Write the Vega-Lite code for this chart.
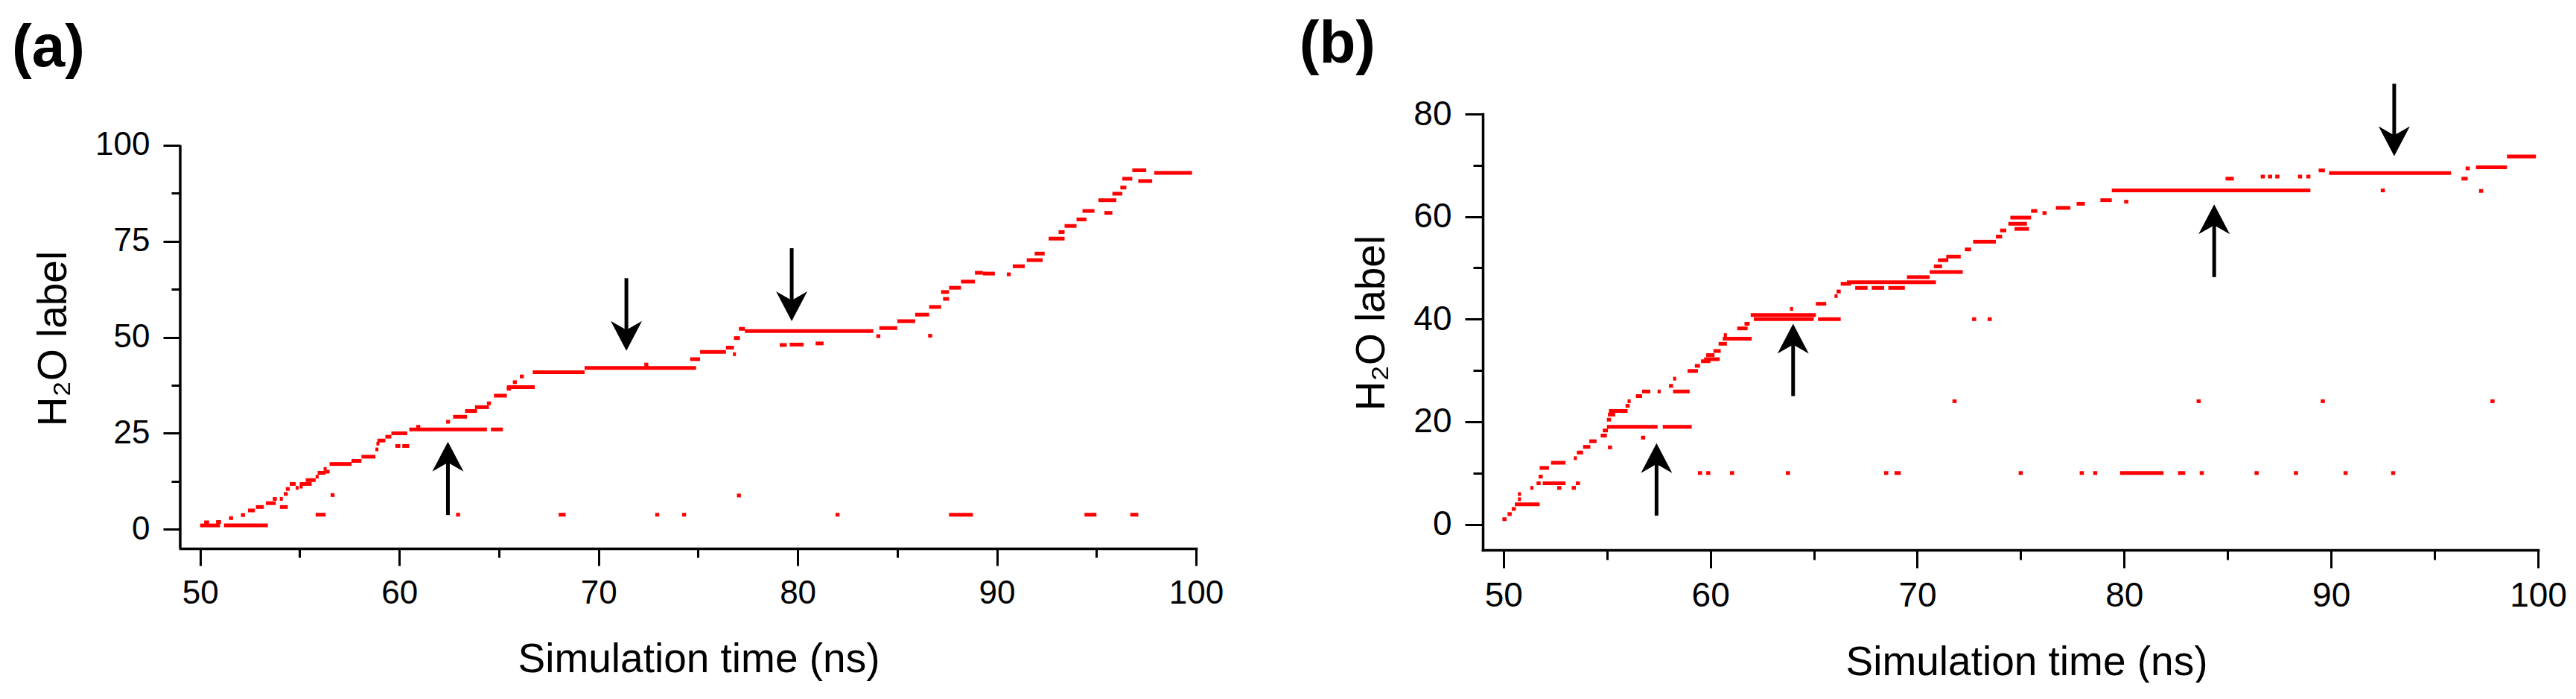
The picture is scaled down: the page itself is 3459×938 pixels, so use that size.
{
  "$schema": "https://vega.github.io/schema/vega-lite/v6.json",
  "background": "white",
  "padding": {"left": 16, "top": 19, "right": 0, "bottom": 0},
  "spacing": 101,
  "config": {
    "font": "Liberation Sans",
    "view": {"stroke": null},
    "axis": {
      "grid": false,
      "domainColor": "black",
      "domainWidth": 3.5,
      "domainCap": "square",
      "tickColor": "black",
      "tickWidth": 3,
      "tickSize": 23,
      "labelFont": "Liberation Sans",
      "labelFontSize": 44,
      "labelColor": "black",
      "labelFlush": false,
      "labelOverlap": false,
      "titleFont": "Liberation Sans",
      "titleFontSize": 55,
      "titleFontWeight": "normal",
      "titleColor": "black"
    },
    "axisX": {"labelPadding": 15, "titlePadding": 40},
    "axisY": {"labelPadding": 18, "titlePadding": 27}
  },
  "datasets": {
    "a_seg": [
      {"x": 50.0, "x2": 51.0, "y": 1}, {"x": 51.2, "x2": 53.4, "y": 1},
      {"x": 50.2, "x2": 50.45, "y": 1.8}, {"x": 50.8, "x2": 51.05, "y": 1.9},
      {"x": 51.45, "x2": 51.65, "y": 2.9}, {"x": 52.05, "x2": 52.25, "y": 3.7},
      {"x": 52.4, "x2": 52.75, "y": 4.9}, {"x": 52.8, "x2": 53.2, "y": 5.8},
      {"x": 53.3, "x2": 53.8, "y": 6.8}, {"x": 53.65, "x2": 53.85, "y": 7.9},
      {"x": 54.0, "x2": 54.15, "y": 7.9}, {"x": 54.0, "x2": 54.4, "y": 5.8},
      {"x": 54.2, "x2": 54.4, "y": 9.2}, {"x": 54.3, "x2": 54.5, "y": 10.5},
      {"x": 54.5, "x2": 54.8, "y": 11.8}, {"x": 54.8, "x2": 54.95, "y": 10.8},
      {"x": 55.0, "x2": 55.6, "y": 11.8}, {"x": 55.0, "x2": 55.15, "y": 11.1},
      {"x": 55.3, "x2": 55.8, "y": 12.8}, {"x": 55.8, "x2": 55.95, "y": 13.7},
      {"x": 55.9, "x2": 56.3, "y": 14.7}, {"x": 56.2, "x2": 56.35, "y": 15.7},
      {"x": 56.3, "x2": 56.5, "y": 15.0}, {"x": 55.8, "x2": 56.3, "y": 3.8},
      {"x": 56.55, "x2": 56.75, "y": 8.9}, {"x": 56.5, "x2": 57.6, "y": 17.0},
      {"x": 57.6, "x2": 58.1, "y": 17.8}, {"x": 58.1, "x2": 58.8, "y": 18.9},
      {"x": 58.8, "x2": 58.95, "y": 20.8}, {"x": 58.85, "x2": 59.0, "y": 22.3},
      {"x": 58.9, "x2": 59.3, "y": 23.1}, {"x": 59.3, "x2": 59.6, "y": 24.1},
      {"x": 59.6, "x2": 60.4, "y": 25.0}, {"x": 59.8, "x2": 60.05, "y": 21.7},
      {"x": 60.15, "x2": 60.5, "y": 21.7}, {"x": 60.5, "x2": 64.4, "y": 26.0},
      {"x": 60.85, "x2": 61.05, "y": 26.7}, {"x": 64.6, "x2": 65.2, "y": 26.0},
      {"x": 62.35, "x2": 62.55, "y": 28.0}, {"x": 62.7, "x2": 63.4, "y": 29.3},
      {"x": 63.3, "x2": 63.9, "y": 30.8}, {"x": 63.8, "x2": 64.5, "y": 31.8},
      {"x": 64.4, "x2": 64.6, "y": 32.8}, {"x": 64.75, "x2": 65.4, "y": 34.8},
      {"x": 65.4, "x2": 65.6, "y": 36.6}, {"x": 65.4, "x2": 66.8, "y": 37.0},
      {"x": 65.7, "x2": 65.9, "y": 38.3}, {"x": 66.05, "x2": 66.25, "y": 39.8},
      {"x": 66.7, "x2": 69.3, "y": 40.9}, {"x": 62.85, "x2": 63.05, "y": 3.8},
      {"x": 69.3, "x2": 74.9, "y": 42.0}, {"x": 72.3, "x2": 72.5, "y": 42.9},
      {"x": 74.6, "x2": 75.1, "y": 44.3}, {"x": 75.1, "x2": 76.4, "y": 46.2},
      {"x": 76.4, "x2": 76.8, "y": 47.3}, {"x": 76.75, "x2": 76.9, "y": 45.6},
      {"x": 76.8, "x2": 77.1, "y": 49.8}, {"x": 77.05, "x2": 77.35, "y": 52.2},
      {"x": 77.35, "x2": 83.8, "y": 51.6}, {"x": 79.1, "x2": 79.45, "y": 48.0},
      {"x": 79.6, "x2": 80.3, "y": 48.1}, {"x": 80.9, "x2": 81.3, "y": 48.4},
      {"x": 83.95, "x2": 84.15, "y": 50.3}, {"x": 84.1, "x2": 85.0, "y": 52.4},
      {"x": 85.0, "x2": 85.9, "y": 54.2}, {"x": 85.9, "x2": 86.6, "y": 55.9},
      {"x": 86.55, "x2": 86.75, "y": 50.4}, {"x": 86.6, "x2": 87.2, "y": 57.9},
      {"x": 87.2, "x2": 87.6, "y": 61.8}, {"x": 87.3, "x2": 87.6, "y": 60.0},
      {"x": 87.6, "x2": 88.2, "y": 62.9}, {"x": 88.2, "x2": 88.9, "y": 64.5},
      {"x": 88.9, "x2": 89.3, "y": 66.8}, {"x": 89.3, "x2": 89.9, "y": 66.6},
      {"x": 90.5, "x2": 90.7, "y": 66.4}, {"x": 90.8, "x2": 91.4, "y": 68.5},
      {"x": 91.5, "x2": 92.3, "y": 70.1}, {"x": 91.9, "x2": 92.4, "y": 71.8},
      {"x": 92.6, "x2": 93.4, "y": 75.7}, {"x": 93.1, "x2": 93.4, "y": 77.4},
      {"x": 93.4, "x2": 94.0, "y": 79.0}, {"x": 94.0, "x2": 94.5, "y": 80.7},
      {"x": 94.3, "x2": 94.9, "y": 82.9}, {"x": 95.4, "x2": 95.8, "y": 82.4},
      {"x": 95.1, "x2": 96.0, "y": 85.7}, {"x": 95.8, "x2": 96.3, "y": 87.4},
      {"x": 96.2, "x2": 96.5, "y": 89.0}, {"x": 96.3, "x2": 96.8, "y": 91.3},
      {"x": 97.1, "x2": 97.8, "y": 90.7}, {"x": 96.8, "x2": 97.5, "y": 93.5},
      {"x": 97.9, "x2": 99.8, "y": 92.8},
      {"x": 68.0, "x2": 68.35, "y": 3.8}, {"x": 72.85, "x2": 73.05, "y": 3.8},
      {"x": 74.2, "x2": 74.4, "y": 3.8}, {"x": 81.9, "x2": 82.1, "y": 3.8},
      {"x": 87.6, "x2": 88.8, "y": 3.8}, {"x": 94.4, "x2": 95.0, "y": 3.8},
      {"x": 96.7, "x2": 97.1, "y": 3.8}, {"x": 76.95, "x2": 77.15, "y": 8.8}
    ],
    "a_arrow": [
      {"x": 62.44, "tail": 3.7, "neck": 18.9, "tip": 22.8, "dir": "up"},
      {"x": 71.4, "tail": 65.4, "neck": 50.4, "tip": 46.5, "dir": "down"},
      {"x": 79.7, "tail": 73.2, "neck": 58.1, "tip": 54.2, "dir": "down"}
    ],
    "b_seg": [
      {"x": 49.95, "x2": 50.15, "y": 1.0}, {"x": 50.2, "x2": 50.4, "y": 2.0},
      {"x": 50.4, "x2": 50.6, "y": 3.0}, {"x": 50.55, "x2": 51.75, "y": 3.9},
      {"x": 50.7, "x2": 50.85, "y": 5.9}, {"x": 50.7, "x2": 50.85, "y": 4.9},
      {"x": 51.3, "x2": 51.45, "y": 7.1}, {"x": 51.6, "x2": 51.8, "y": 8.0},
      {"x": 51.7, "x2": 51.9, "y": 9.3}, {"x": 51.75, "x2": 52.2, "y": 11.0},
      {"x": 52.3, "x2": 53.0, "y": 12.0}, {"x": 51.9, "x2": 53.0, "y": 8.0},
      {"x": 52.6, "x2": 52.8, "y": 7.1}, {"x": 53.3, "x2": 53.5, "y": 7.1},
      {"x": 53.5, "x2": 53.7, "y": 8.0}, {"x": 53.4, "x2": 53.55, "y": 12.9},
      {"x": 53.55, "x2": 53.85, "y": 14.0}, {"x": 53.85, "x2": 54.2, "y": 15.1},
      {"x": 54.15, "x2": 54.5, "y": 16.2}, {"x": 54.7, "x2": 55.0, "y": 17.3},
      {"x": 54.8, "x2": 55.05, "y": 18.3}, {"x": 55.0, "x2": 57.45, "y": 19.0},
      {"x": 57.7, "x2": 59.1, "y": 19.0}, {"x": 55.0, "x2": 55.2, "y": 20.4},
      {"x": 55.05, "x2": 55.4, "y": 21.4}, {"x": 55.1, "x2": 56.0, "y": 22.1},
      {"x": 55.9, "x2": 56.1, "y": 23.1}, {"x": 56.0, "x2": 56.15, "y": 24.0},
      {"x": 56.4, "x2": 56.7, "y": 25.0}, {"x": 56.7, "x2": 57.1, "y": 25.9},
      {"x": 57.45, "x2": 57.6, "y": 25.9}, {"x": 58.2, "x2": 59.0, "y": 25.9},
      {"x": 58.0, "x2": 58.2, "y": 27.0}, {"x": 58.2, "x2": 58.35, "y": 28.4},
      {"x": 56.65, "x2": 56.85, "y": 16.9}, {"x": 55.05, "x2": 55.25, "y": 15.0},
      {"x": 58.9, "x2": 59.4, "y": 29.9}, {"x": 59.25, "x2": 59.5, "y": 30.9},
      {"x": 59.55, "x2": 60.0, "y": 31.8}, {"x": 59.7, "x2": 60.45, "y": 32.2},
      {"x": 59.8, "x2": 60.2, "y": 33.0}, {"x": 60.15, "x2": 60.5, "y": 33.8},
      {"x": 60.4, "x2": 60.8, "y": 35.2}, {"x": 60.6, "x2": 62.0, "y": 36.2},
      {"x": 60.65, "x2": 60.8, "y": 36.9}, {"x": 61.3, "x2": 61.8, "y": 38.2},
      {"x": 61.65, "x2": 61.9, "y": 39.1}, {"x": 61.95, "x2": 65.1, "y": 40.8},
      {"x": 62.1, "x2": 65.0, "y": 40.0}, {"x": 65.2, "x2": 66.3, "y": 40.0},
      {"x": 63.85, "x2": 64.0, "y": 42.0}, {"x": 65.1, "x2": 65.6, "y": 43.0},
      {"x": 66.0, "x2": 66.15, "y": 44.5}, {"x": 66.1, "x2": 66.3, "y": 45.4},
      {"x": 66.3, "x2": 66.8, "y": 46.9}, {"x": 66.6, "x2": 70.9, "y": 47.2},
      {"x": 67.0, "x2": 67.6, "y": 46.1}, {"x": 67.8, "x2": 68.4, "y": 46.1},
      {"x": 68.6, "x2": 69.4, "y": 46.1},
      {"x": 69.5, "x2": 70.6, "y": 48.2}, {"x": 70.6, "x2": 72.2, "y": 49.2},
      {"x": 70.8, "x2": 71.2, "y": 50.3}, {"x": 71.0, "x2": 71.5, "y": 51.5},
      {"x": 71.4, "x2": 72.1, "y": 52.2}, {"x": 72.3, "x2": 72.6, "y": 53.6},
      {"x": 72.7, "x2": 73.8, "y": 55.1}, {"x": 73.8, "x2": 74.1, "y": 56.1},
      {"x": 74.0, "x2": 74.3, "y": 57.3}, {"x": 74.4, "x2": 75.3, "y": 58.6},
      {"x": 74.5, "x2": 75.5, "y": 59.8}, {"x": 74.7, "x2": 75.4, "y": 57.6},
      {"x": 75.5, "x2": 75.8, "y": 61.1}, {"x": 76.05, "x2": 76.25, "y": 60.7},
      {"x": 76.7, "x2": 77.4, "y": 61.7}, {"x": 77.7, "x2": 78.1, "y": 62.5},
      {"x": 78.85, "x2": 79.4, "y": 63.2}, {"x": 80.0, "x2": 80.2, "y": 62.9},
      {"x": 79.4, "x2": 89.0, "y": 65.1}, {"x": 84.9, "x2": 85.3, "y": 67.4},
      {"x": 86.6, "x2": 86.8, "y": 67.8}, {"x": 86.95, "x2": 87.15, "y": 67.8},
      {"x": 87.3, "x2": 87.5, "y": 67.8}, {"x": 88.4, "x2": 88.6, "y": 67.8},
      {"x": 88.8, "x2": 89.0, "y": 67.8}, {"x": 89.4, "x2": 89.7, "y": 69.0},
      {"x": 89.9, "x2": 95.8, "y": 68.5}, {"x": 92.4, "x2": 92.6, "y": 65.1},
      {"x": 96.3, "x2": 96.6, "y": 67.4}, {"x": 96.5, "x2": 96.7, "y": 69.4},
      {"x": 97.0, "x2": 98.5, "y": 69.6}, {"x": 97.15, "x2": 97.35, "y": 65.0},
      {"x": 98.5, "x2": 99.9, "y": 71.7},
      {"x": 71.7, "x2": 71.9, "y": 24}, {"x": 83.5, "x2": 83.7, "y": 24},
      {"x": 89.5, "x2": 89.7, "y": 24}, {"x": 97.7, "x2": 97.9, "y": 24},
      {"x": 72.65, "x2": 72.85, "y": 40}, {"x": 73.4, "x2": 73.6, "y": 40},
      {"x": 59.4, "x2": 59.6, "y": 10}, {"x": 59.8, "x2": 60.0, "y": 10},
      {"x": 60.95, "x2": 61.15, "y": 10}, {"x": 63.65, "x2": 63.85, "y": 10},
      {"x": 68.4, "x2": 68.6, "y": 10}, {"x": 68.9, "x2": 69.2, "y": 10},
      {"x": 74.9, "x2": 75.1, "y": 10}, {"x": 77.85, "x2": 78.05, "y": 10},
      {"x": 78.5, "x2": 78.7, "y": 10}, {"x": 79.8, "x2": 81.9, "y": 10},
      {"x": 82.6, "x2": 82.95, "y": 10}, {"x": 83.65, "x2": 83.85, "y": 10},
      {"x": 86.3, "x2": 86.5, "y": 10}, {"x": 88.2, "x2": 88.4, "y": 10},
      {"x": 90.6, "x2": 90.8, "y": 10}, {"x": 92.9, "x2": 93.1, "y": 10}
    ],
    "b_arrow": [
      {"x": 57.4, "tail": 1.7, "neck": 12.9, "tip": 15.8, "dir": "up"},
      {"x": 64.0, "tail": 25.0, "neck": 36.2, "tip": 39.1, "dir": "up"},
      {"x": 84.35, "tail": 48.2, "neck": 59.5, "tip": 62.4, "dir": "up"},
      {"x": 93.05, "tail": 85.9, "neck": 74.7, "tip": 71.8, "dir": "down"}
    ]
  },
  "hconcat": [
    {
      "width": 1364,
      "height": 583,
      "layer": [
        {
          "data": {"name": "a_seg"},
          "mark": {"type": "rule", "color": "#ff0000", "strokeWidth": 5, "strokeCap": "butt"},
          "encoding": {
            "x": {"field": "x", "type": "quantitative", "scale": {"domain": [49, 100], "nice": false, "zero": false},
                  "axis": {"values": [50, 60, 70, 80, 90, 100], "title": "Simulation time (ns)", "titleX": 696}},
            "x2": {"field": "x2"},
            "y": {"field": "y", "type": "quantitative", "scale": {"domain": [-5, 108.15], "nice": false, "zero": false},
                  "axis": {"values": [0, 25, 50, 75, 100], "title": "H₂O label", "titleY": 301, "domain": false}}
          }
        },
        {
          "data": {"values": [{"from": -5, "to": 100}]},
          "mark": {"type": "rule", "color": "black", "strokeWidth": 3.5},
          "encoding": {
            "x": {"datum": 49, "type": "quantitative", "axis": null},
            "y": {"field": "from", "type": "quantitative", "axis": null},
            "y2": {"field": "to"}
          }
        },
        {
          "data": {"name": "a_arrow"},
          "mark": {"type": "rule", "color": "black", "strokeWidth": 5},
          "encoding": {
            "x": {"field": "x", "type": "quantitative",
                  "axis": {"orient": "bottom", "values": [55, 65, 75, 85, 95], "labels": false, "domain": false, "tickSize": 12, "title": null}},
            "y": {"field": "tail", "type": "quantitative",
                  "axis": {"orient": "left", "values": [12.5, 37.5, 62.5, 87.5], "labels": false, "domain": false, "tickSize": 12, "title": null}},
            "y2": {"field": "neck"}
          }
        },
        {
          "data": {"name": "a_arrow"},
          "mark": {"type": "point", "filled": true, "color": "black", "opacity": 1, "size": 1600, "strokeWidth": 0},
          "encoding": {
            "x": {"field": "x", "type": "quantitative", "axis": null},
            "y": {"field": "tip", "type": "quantitative", "axis": null},
            "shape": {"field": "dir", "type": "nominal", "legend": null,
                      "scale": {"domain": ["up", "down"], "range": ["M0,0L1.05,2L0,1.4L-1.05,2Z", "M0,0L1.05,-2L0,-1.4L-1.05,-2Z"]}}
          }
        },
        {
          "data": {"values": [{"panel": "(a)", "px": 40.55, "py": 120.57}]},
          "mark": {"type": "text", "font": "Liberation Sans", "fontSize": 80, "fontWeight": "bold", "color": "black", "align": "left", "baseline": "alphabetic"},
          "encoding": {
            "x": {"field": "px", "type": "quantitative", "axis": null},
            "y": {"field": "py", "type": "quantitative", "axis": null},
            "text": {"field": "panel"}
          }
        }
      ],
      "resolve": {"axis": {"x": "independent", "y": "independent"}}
    },
    {
      "width": 1417,
      "height": 585,
      "layer": [
        {
          "data": {"name": "b_seg"},
          "mark": {"type": "rule", "color": "#ff0000", "strokeWidth": 5, "strokeCap": "butt"},
          "encoding": {
            "x": {"field": "x", "type": "quantitative", "scale": {"domain": [49, 100], "nice": false, "zero": false},
                  "axis": {"values": [50, 60, 70, 80, 90, 100], "title": "Simulation time (ns)", "titleX": 730, "labelFontSize": 46, "tickSize": 24}},
            "x2": {"field": "x2"},
            "y": {"field": "y", "type": "quantitative", "scale": {"domain": [-5, 80], "nice": false, "zero": false},
                  "axis": {"values": [0, 20, 40, 60, 80], "title": "H₂O label", "titleY": 280, "labelFontSize": 46, "tickSize": 24}}
          }
        },
        {
          "data": {"name": "b_arrow"},
          "mark": {"type": "rule", "color": "black", "strokeWidth": 5},
          "encoding": {
            "x": {"field": "x", "type": "quantitative",
                  "axis": {"orient": "bottom", "values": [55, 65, 75, 85, 95], "labels": false, "domain": false, "tickSize": 13, "title": null}},
            "y": {"field": "tail", "type": "quantitative",
                  "axis": {"orient": "left", "values": [10, 30, 50, 70], "labels": false, "domain": false, "tickSize": 13, "title": null}},
            "y2": {"field": "neck"}
          }
        },
        {
          "data": {"name": "b_arrow"},
          "mark": {"type": "point", "filled": true, "color": "black", "opacity": 1, "size": 1600, "strokeWidth": 0},
          "encoding": {
            "x": {"field": "x", "type": "quantitative", "axis": null},
            "y": {"field": "tip", "type": "quantitative", "axis": null},
            "shape": {"field": "dir", "type": "nominal", "legend": null,
                      "scale": {"domain": ["up", "down"], "range": ["M0,0L1.05,2L0,1.4L-1.05,2Z", "M0,0L1.05,-2L0,-1.4L-1.05,-2Z"]}}
          }
        },
        {
          "data": {"values": [{"panel": "(b)", "px": 40.14, "py": 90.03}]},
          "mark": {"type": "text", "font": "Liberation Sans", "fontSize": 80, "fontWeight": "bold", "color": "black", "align": "left", "baseline": "alphabetic"},
          "encoding": {
            "x": {"field": "px", "type": "quantitative", "axis": null},
            "y": {"field": "py", "type": "quantitative", "axis": null},
            "text": {"field": "panel"}
          }
        }
      ],
      "resolve": {"axis": {"x": "independent", "y": "independent"}}
    }
  ]
}
